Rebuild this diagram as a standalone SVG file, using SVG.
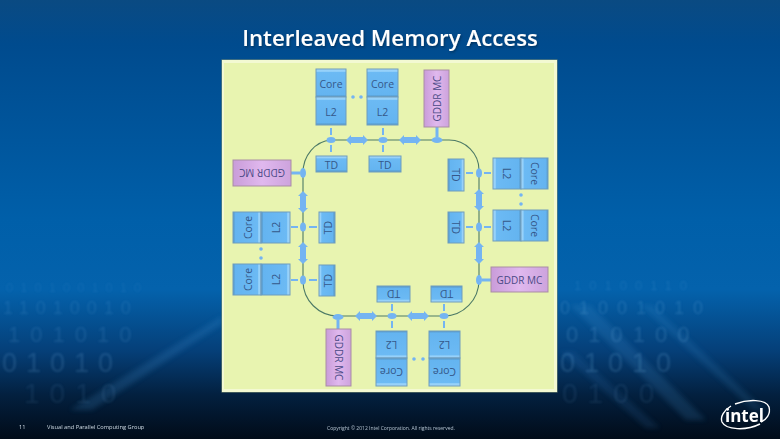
<svg xmlns="http://www.w3.org/2000/svg" width="780" height="439" viewBox="0 0 780 439">
  <style>
    text { font-family: "Open Sans", "Noto Sans", "Liberation Sans", sans-serif; }
    .lbl { font-size: 10.5px; fill: #35588a; text-anchor: middle; dominant-baseline: central; }
    .gm { font-size: 10px; fill: #4a4a86; text-anchor: middle; dominant-baseline: central; }
    .box { stroke: #6f9cbc; stroke-width: 1; }
    .mc { fill: url(#violet); stroke: #a98da3; stroke-width: 1; }
    .ring { fill: none; stroke: #4d7a66; stroke-width: 1.1; }
    .stub { stroke: #74b4f2; stroke-width: 2; fill: none; }
    .mcstub { stroke: #74b4f2; stroke-width: 3; fill: none; }
    .stop { fill: #74b4f2; }
    .dot { fill: #74b4f2; }
    .digits text { font-family: "Liberation Sans", sans-serif; fill: #7fbcec; }
    .foot { font-size: 5.7px; fill: #d0dce6; }
  </style>
  <defs>
    <linearGradient id="sky" x1="0" y1="0" x2="0" y2="1">
      <stop offset="0" stop-color="#0a4a82"/>
      <stop offset="0.1" stop-color="#004b8e"/>
      <stop offset="0.5" stop-color="#005fa9"/>
      <stop offset="0.66" stop-color="#0462ac"/>
      <stop offset="0.8" stop-color="#053f78"/>
      <stop offset="0.9" stop-color="#03203f"/>
      <stop offset="1" stop-color="#010b18"/>
    </linearGradient>
    <linearGradient id="bT" x1="0" y1="0" x2="0" y2="1">
      <stop offset="0" stop-color="#a4d8fb"/>
      <stop offset="0.09" stop-color="#8ecdf9"/>
      <stop offset="0.1" stop-color="#6cbaf4"/>
      <stop offset="0.94" stop-color="#64b4f0"/>
      <stop offset="0.95" stop-color="#5a9fd2"/>
      <stop offset="1" stop-color="#5a9fd2"/>
    </linearGradient>
    <linearGradient id="bB" href="#bT" x1="0" y1="1" x2="0" y2="0"/>
    <linearGradient id="bL" href="#bT" x1="0" y1="0" x2="1" y2="0"/>
    <linearGradient id="bR" href="#bT" x1="1" y1="0" x2="0" y2="0"/>
    <linearGradient id="tT" x1="0" y1="0" x2="0" y2="1">
      <stop offset="0" stop-color="#a4d8fb"/>
      <stop offset="0.15" stop-color="#8ecdf9"/>
      <stop offset="0.16" stop-color="#6cbaf4"/>
      <stop offset="0.9" stop-color="#64b4f0"/>
      <stop offset="0.91" stop-color="#5a9fd2"/>
      <stop offset="1" stop-color="#5a9fd2"/>
    </linearGradient>
    <linearGradient id="tB" href="#tT" x1="0" y1="1" x2="0" y2="0"/>
    <linearGradient id="tL" href="#tT" x1="0" y1="0" x2="1" y2="0"/>
    <linearGradient id="tR" href="#tT" x1="1" y1="0" x2="0" y2="0"/>
    <linearGradient id="violet" x1="0" y1="0" x2="1" y2="0">
      <stop offset="0" stop-color="#c99cd9"/>
      <stop offset="0.5" stop-color="#e0b8ee"/>
      <stop offset="1" stop-color="#cda3dd"/>
    </linearGradient>
    <filter id="soft" x="-5%" y="-20%" width="110%" height="140%"><feGaussianBlur stdDeviation="0.9"/></filter>
    <filter id="haze" x="-20%" y="-20%" width="140%" height="140%"><feGaussianBlur stdDeviation="2.5"/></filter>
    <filter id="lift" x="-5%" y="-20%" width="110%" height="150%"><feDropShadow dx="1" dy="1.5" stdDeviation="1" flood-color="#00264d" flood-opacity="0.7"/></filter>
    <path id="dblarrow" class="stop" d="M-11 0 L-6 -5 L-6 -3 L6 -3 L6 -5 L11 0 L6 5 L6 3 L-6 3 L-6 5 Z"/>
  </defs>

  <!-- slide backdrop -->
  <rect width="780" height="439" fill="url(#sky)"/>
  <g fill="#4aa0e4" filter="url(#haze)">
    <path d="M70 410 L222 316 L222 324 L92 410 Z" opacity="0.18"/>
    <path d="M570 305 L590 305 L706 420 L686 420 Z" opacity="0.16"/>
    <path d="M640 305 L652 305 L765 410 L753 410 Z" opacity="0.14"/>
    <path d="M560 352 L574 352 L660 428 L646 428 Z" opacity="0.12"/>
  </g>
  <g class="digits" filter="url(#soft)">
    <text x="6" y="292" font-size="13" letter-spacing="7" opacity="0.10">0101001010</text>
    <text x="3" y="314" font-size="18" letter-spacing="7" opacity="0.14">11010010</text>
    <text x="8" y="342" font-size="22" letter-spacing="10" opacity="0.15">101010</text>
    <text x="2" y="372" font-size="27" letter-spacing="9" opacity="0.18">01010</text>
    <text x="24" y="403" font-size="28" letter-spacing="10" opacity="0.10">1010</text>
    <text x="574" y="290" font-size="13" letter-spacing="8" opacity="0.14">10100110</text>
    <text x="560" y="314" font-size="18" letter-spacing="9" opacity="0.2">01001010</text>
    <text x="566" y="342" font-size="22" letter-spacing="10" opacity="0.2">010100</text>
    <text x="560" y="372" font-size="27" letter-spacing="9" opacity="0.2">01010</text>
    <text x="562" y="403" font-size="28" letter-spacing="10" opacity="0.1">0100</text>
  </g>

  <!-- slide title -->
  <text x="390" y="46" font-size="22.300" font-weight="600" fill="#ffffff" text-anchor="middle" filter="url(#lift)">Interleaved Memory Access</text>

  <!-- drawing sheet with bevelled edge -->
  <rect x="221.500" y="59.500" width="336" height="333" fill="#7d8f74"/>
  <rect x="222" y="60" width="335" height="332" fill="#f3f9d2"/>
  <rect x="224" y="63" width="330" height="326" fill="#e8f4b0"/>

  <g id="connectors">
    <path class="ring" d="M331 140 H449 A30 30 0 0 1 479 170 V280 A35 36 0 0 1 444 316 H338 A35 35 0 0 1 303 281 V173 A30 33 0 0 1 331 140 Z"/>
    <path class="stub" d="M331 128 V135 M331 145 V152 M383 128 V135 M383 145 V152"/>
    <path class="stub" d="M392 304 V311 M392 321 V328 M444 304 V311 M444 321 V328"/>
    <path class="stub" d="M466 173 H473 M484 173 H491 M466 227 H473 M484 227 H491"/>
    <path class="stub" d="M291 227 H298 M309 227 H317 M291 280 H298 M309 280 H317"/>
    <path class="mcstub" d="M437 127 V137 M338 320 V329 M291 173 H300 M482 280 H491"/>
    <use href="#dblarrow" x="357" y="140"/>
    <use href="#dblarrow" x="410" y="140"/>
    <use href="#dblarrow" x="366" y="316"/>
    <use href="#dblarrow" x="418" y="316"/>
    <use href="#dblarrow" transform="translate(303 202) rotate(90)"/>
    <use href="#dblarrow" transform="translate(303 253) rotate(90)"/>
    <use href="#dblarrow" transform="translate(479 200) rotate(90)"/>
    <use href="#dblarrow" transform="translate(479 253) rotate(90)"/>
    <ellipse class="stop" cx="331" cy="140" rx="4.500" ry="3"/>
    <ellipse class="stop" cx="383" cy="140" rx="4.500" ry="3"/>
    <ellipse class="stop" cx="437" cy="140" rx="5.500" ry="3"/>
    <ellipse class="stop" cx="338" cy="317" rx="5.500" ry="3"/>
    <ellipse class="stop" cx="392" cy="316" rx="4.500" ry="3"/>
    <ellipse class="stop" cx="444" cy="316" rx="4.500" ry="3"/>
    <ellipse class="stop" cx="303" cy="173" rx="3" ry="5"/>
    <ellipse class="stop" cx="303" cy="227" rx="3" ry="4.500"/>
    <ellipse class="stop" cx="303" cy="280" rx="3" ry="4.500"/>
    <ellipse class="stop" cx="479" cy="173" rx="3" ry="4.500"/>
    <ellipse class="stop" cx="479" cy="227" rx="3" ry="4.500"/>
    <ellipse class="stop" cx="479" cy="280" rx="3" ry="5"/>
  </g>

  <!-- top side -->
  <g id="core-top-1"><rect class="box" fill="url(#bT)" x="316" y="69" width="30" height="28"/><text class="lbl" x="331" y="84">Core</text></g>
  <g id="l2-top-1"><rect class="box" fill="url(#bT)" x="316" y="97" width="30" height="28"/><text class="lbl" x="331" y="112">L2</text></g>
  <g id="core-top-2"><rect class="box" fill="url(#bT)" x="367" y="69" width="31" height="28"/><text class="lbl" x="382.500" y="84">Core</text></g>
  <g id="l2-top-2"><rect class="box" fill="url(#bT)" x="367" y="97" width="31" height="28"/><text class="lbl" x="382.500" y="112">L2</text></g>
  <g id="dots-top"><circle class="dot" cx="353" cy="97" r="1.800"/><circle class="dot" cx="361" cy="97" r="1.800"/></g>
  <g id="td-top-1"><rect class="box" fill="url(#tT)" x="316" y="156" width="31" height="16"/><text class="lbl" x="331.500" y="164.500">TD</text></g>
  <g id="td-top-2"><rect class="box" fill="url(#tT)" x="369" y="156" width="32" height="16"/><text class="lbl" x="385" y="164.500">TD</text></g>
  <g id="mc-top"><rect class="mc" x="424" y="70" width="25" height="57"/><text class="gm" transform="translate(437 98.500) rotate(-90)">GDDR MC</text></g>

  <!-- left side -->
  <g id="mc-left"><rect class="mc" x="233" y="160" width="58" height="26"/><text class="gm" transform="translate(262 173) rotate(180)">GDDR MC</text></g>
  <g id="core-left-1"><rect class="box" fill="url(#bR)" x="233" y="212" width="28" height="31"/><text class="lbl" transform="translate(247.500 227.500) rotate(-90)">Core</text></g>
  <g id="l2-left-1"><rect class="box" fill="url(#bR)" x="261" y="212" width="29" height="31"/><text class="lbl" transform="translate(275.500 227.500) rotate(-90)">L2</text></g>
  <g id="core-left-2"><rect class="box" fill="url(#bR)" x="233" y="264" width="28" height="31"/><text class="lbl" transform="translate(248 279.500) rotate(-90)">Core</text></g>
  <g id="l2-left-2"><rect class="box" fill="url(#bR)" x="261" y="264" width="29" height="31"/><text class="lbl" transform="translate(275.500 279.500) rotate(-90)">L2</text></g>
  <g id="dots-left"><circle class="dot" cx="261" cy="249" r="1.800"/><circle class="dot" cx="261" cy="258" r="1.800"/></g>
  <g id="td-left-1"><rect class="box" fill="url(#tL)" x="319" y="212" width="16" height="31"/><text class="lbl" transform="translate(327.500 227.500) rotate(-90)">TD</text></g>
  <g id="td-left-2"><rect class="box" fill="url(#tL)" x="319" y="265" width="16" height="31"/><text class="lbl" transform="translate(327.500 280.500) rotate(-90)">TD</text></g>

  <!-- right side -->
  <g id="l2-right-1"><rect class="box" fill="url(#bL)" x="493" y="158" width="28" height="31"/><text class="lbl" transform="translate(507 173.500) rotate(90)">L2</text></g>
  <g id="core-right-1"><rect class="box" fill="url(#bL)" x="521" y="158" width="27" height="31"/><text class="lbl" transform="translate(534.500 173.500) rotate(90)">Core</text></g>
  <g id="l2-right-2"><rect class="box" fill="url(#bL)" x="493" y="210" width="28" height="31"/><text class="lbl" transform="translate(507 225.500) rotate(90)">L2</text></g>
  <g id="core-right-2"><rect class="box" fill="url(#bL)" x="521" y="210" width="27" height="31"/><text class="lbl" transform="translate(534.500 225.500) rotate(90)">Core</text></g>
  <g id="dots-right"><circle class="dot" cx="521" cy="195" r="1.800"/><circle class="dot" cx="521" cy="204" r="1.800"/></g>
  <g id="td-right-1"><rect class="box" fill="url(#tR)" x="448" y="159" width="16" height="32"/><text class="lbl" transform="translate(455.500 175) rotate(90)">TD</text></g>
  <g id="td-right-2"><rect class="box" fill="url(#tR)" x="448" y="212" width="16" height="31"/><text class="lbl" transform="translate(455.500 227.500) rotate(90)">TD</text></g>
  <g id="mc-right"><rect class="mc" x="491" y="267" width="57" height="25"/><text class="gm" x="519.500" y="279.500">GDDR MC</text></g>

  <!-- bottom side -->
  <g id="td-bottom-1"><rect class="box" fill="url(#tB)" x="377" y="286" width="33" height="16"/><text class="lbl" transform="translate(393.500 293.500) rotate(180)">TD</text></g>
  <g id="td-bottom-2"><rect class="box" fill="url(#tB)" x="431" y="286" width="31" height="16"/><text class="lbl" transform="translate(446.500 293.500) rotate(180)">TD</text></g>
  <g id="l2-bottom-1"><rect class="box" fill="url(#bB)" x="376" y="331" width="31" height="27"/><text class="lbl" transform="translate(391.500 344.500) rotate(180)">L2</text></g>
  <g id="core-bottom-1"><rect class="box" fill="url(#bB)" x="376" y="358" width="31" height="28"/><text class="lbl" transform="translate(391.500 371.500) rotate(180)">Core</text></g>
  <g id="l2-bottom-2"><rect class="box" fill="url(#bB)" x="429" y="331" width="31" height="27"/><text class="lbl" transform="translate(444.500 344.500) rotate(180)">L2</text></g>
  <g id="core-bottom-2"><rect class="box" fill="url(#bB)" x="429" y="358" width="31" height="28"/><text class="lbl" transform="translate(444.500 371.500) rotate(180)">Core</text></g>
  <g id="dots-bottom"><circle class="dot" cx="414" cy="359" r="1.800"/><circle class="dot" cx="423" cy="359" r="1.800"/></g>
  <g id="mc-bottom"><rect class="mc" x="326" y="329" width="25" height="57"/><text class="gm" transform="translate(338.500 357.500) rotate(90)">GDDR MC</text></g>

  <!-- footer -->
  <text class="foot" x="19" y="429">11</text>
  <text class="foot" x="47" y="429">Visual and Parallel Computing Group</text>
  <text x="327" y="430" font-size="5" fill="#b4c4d2">Copyright © 2012 Intel Corporation. All rights reserved.</text>

  <!-- corporate mark -->
  <g id="logo" fill="none" stroke="#ffffff" stroke-width="1.400">
    <path d="M731 406 C724 410 720 417 722 422 C726 430 746 431 760 424"/>
    <path d="M735 404 C748 399 766 399 769 407 C771 414 766 420 761 422"/>
    <text x="744.500" y="422" font-size="17" font-weight="700" fill="#ffffff" stroke="none" text-anchor="middle">intel</text>
  </g>
</svg>
